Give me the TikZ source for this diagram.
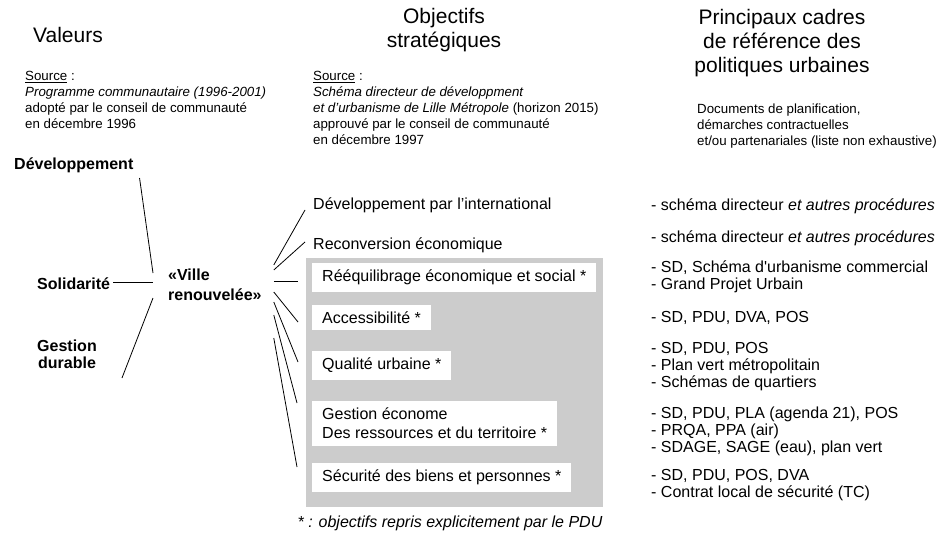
\documentclass[tikz,border=0pt]{standalone}
\usepackage{fontspec}
\setmainfont{Liberation Sans}
\tikzset{
    titre/.style={align=center, inner sep=0, font=\fontsize{21}{24}\selectfont},
    source/.style={align=left, inner sep=0, anchor=north west, font=\fontsize{13.3}{16}\selectfont},
    valeur/.style={align=left, inner sep=0, font=\fontsize{16}{17}\selectfont\bfseries},
    objectif/.style={anchor=west, inner sep=0, font=\fontsize{16}{19}\selectfont},
    cadre/.style={anchor=west, align=left, fill=white, inner xsep=10pt, inner ysep=7pt, font=\fontsize{16}{19}\selectfont},
    refdoc/.style={anchor=west, align=left, inner sep=0, font=\fontsize{16}{17}\selectfont},
    lien/.style={line width=0.8pt}
}

\begin{document}
\begin{tikzpicture}[x=1pt, y=-1pt]
                                \useasboundingbox (0, 0) rectangle (939, 540);
                                % titres des colonnes
                                \node[titre] (tval) at (68, 35) {Valeurs};
                                \node[titre] (tobj) at (444, 30) {Objectifs\\stratégiques};
                                \node[titre] (tref) at (782, 43) {Principaux cadres\\de référence des\\politiques urbaines};
                                \node[source] (sval) at (25, 71) {\underline{Source} :\\\textit{Programme communautaire (1996-2001)}\\adopté par le conseil de communauté\\en décembre 1996};
                                \node[source] (sobj) at (313, 71) {\underline{Source} :\\\textit{Schéma directeur de développment}\\\textit{et d'urbanisme de Lille Métropole} (horizon 2015)\\approuvé par le conseil de communauté\\en décembre 1997};
                                \node[source] (sref) at (697, 104) {Documents de planification,\\démarches contractuelles\\et/ou partenariales (liste non exhaustive)};
                                % valeurs
                                \node[valeur, anchor=west] (dev) at (14, 165) {Développement};
                                \node[valeur, anchor=west] (sol) at (37, 284) {Solidarité};
                                \node[valeur, align=center] (gest) at (67, 354) {Gestion\\durable};
                                \node[valeur, anchor=west, font=\fontsize{16}{20}\selectfont\bfseries] (ville) at (168, 285) {«Ville\\renouvelée»};
                                % objectifs
                                \fill[gray!40] (306, 258) rectangle (603, 507);
                                \node[objectif] (intl) at (313, 205) {Développement par l'international};
                                \node[objectif] (reconv) at (313, 245) {Reconversion économique};
                                \node[cadre] (reeq) at (312, 277.5) {Rééquilibrage économique et social *};
                                \node[cadre] (acc) at (312, 317.5) {Accessibilité *};
                                \node[cadre] (qual) at (312, 365.5) {Qualité urbaine *};
                                \node[cadre] (eco) at (312, 423.5) {Gestion économe\\Des ressources et du territoire *};
                                \node[cadre] (secu) at (312, 477.5) {Sécurité des biens et personnes *};
                                \node[font=\fontsize{16}{19}\selectfont\itshape, inner sep=0] (note) at (450, 523) {* : objectifs repris explicitement par le PDU};
                                % cadres de reference
                                \node[refdoc] (r1) at (651, 206) {- schéma directeur \textit{et autres procédures}};
                                \node[refdoc] (r2) at (651, 238) {- schéma directeur \textit{et autres procédures}};
                                \node[refdoc] (r3) at (651, 277) {- SD, Schéma d\textquotesingle urbanisme commercial\\- Grand Projet Urbain};
                                \node[refdoc] (r4) at (651, 318) {- SD, PDU, DVA, POS};
                                \node[refdoc] (r5) at (651, 367) {- SD, PDU, POS\\- Plan vert métropolitain\\- Schémas de quartiers};
                                \node[refdoc] (r6) at (651, 431) {- SD, PDU, PLA (agenda 21), POS\\- PRQA, PPA (air)\\- SDAGE, SAGE (eau), plan vert};
                                \node[refdoc] (r7) at (651, 485) {- SD, PDU, POS, DVA\\- Contrat local de sécurité (TC)};
                                % liens valeurs
                                \draw[lien] ([shift={(6, 13)}]dev.east) -- ([shift={(-15, -12)}]ville.west);
                                \draw[lien] ([shift={(3, -2)}]sol.east) -- ([shift={(-15, -3)}]ville.west);
                                \draw[lien] ([shift={(25, 24)}]gest.east) -- ([shift={(-15, 13)}]ville.west);
                                % liens objectifs
                                \draw[lien] ([shift={(12, -20)}]ville.east) -- ([shift={(-8, 5)}]intl.west);
                                \draw[lien] ([shift={(12, -15)}]ville.east) -- ([shift={(-8, -3)}]reconv.west);
                                \draw[lien] ([shift={(12, -4)}]ville.east) -- ([shift={(-14, 3.5)}]reeq.west);
                                \draw[lien] ([shift={(12, 7)}]ville.east) -- ([shift={(-14, 4.5)}]acc.west);
                                \draw[lien] ([shift={(12, 17)}]ville.east) -- ([shift={(-14, -3.5)}]qual.west);
                                \draw[lien] ([shift={(12, 30)}]ville.east) -- ([shift={(-15, -20.5)}]eco.west);
                                \draw[lien] ([shift={(12, 53)}]ville.east) -- ([shift={(-15, -10.5)}]secu.west);
                            \end{tikzpicture}
\end{document}
